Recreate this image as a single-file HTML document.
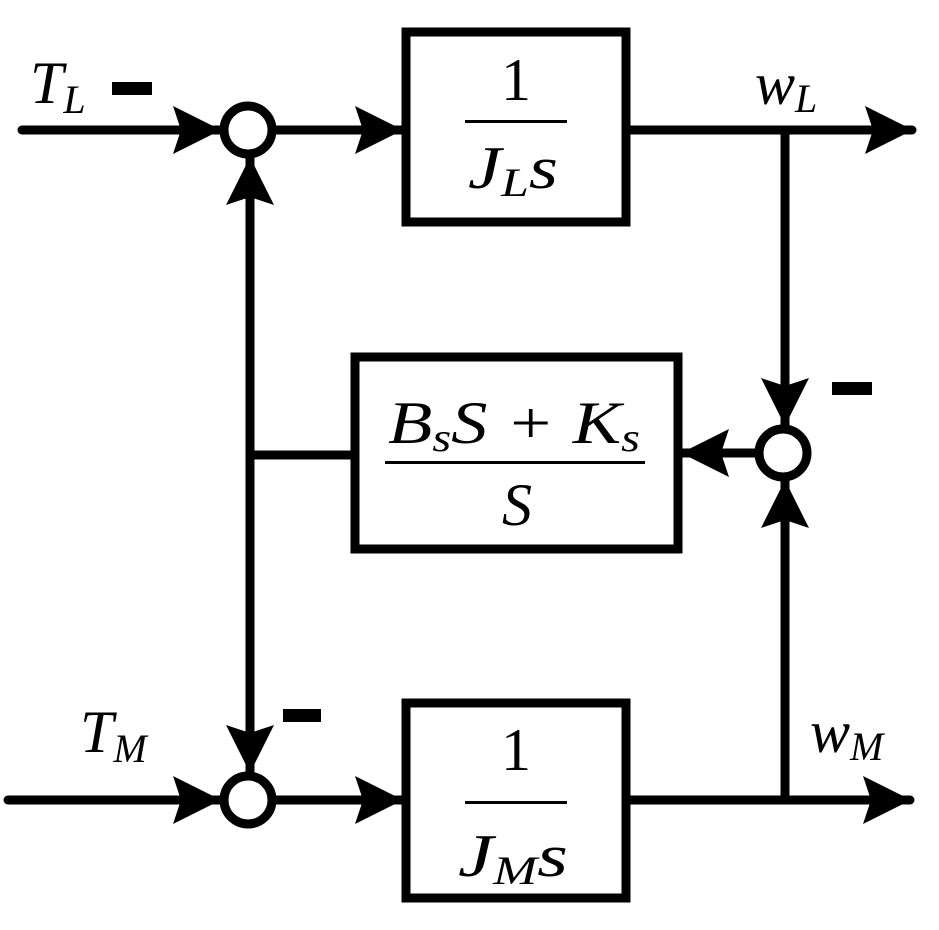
<!DOCTYPE html>
<html><head><style>html,body{margin:0;padding:0;background:#fff}svg{display:block}</style></head><body>
<svg width="939" height="930" viewBox="0 0 939 930" xmlns="http://www.w3.org/2000/svg" font-family="Liberation Serif, serif">
<defs>
<marker id="a" viewBox="0 0 48 48" refX="47" refY="24" markerWidth="48" markerHeight="48" markerUnits="userSpaceOnUse" orient="auto"><path d="M0,0 L48,24 L0,48 L8,24 Z" fill="#000"/></marker>
</defs>
<g stroke="#000" stroke-width="9" fill="none" stroke-linecap="round">
<rect x="406" y="32" width="220" height="190"/>
<rect x="355" y="357" width="323" height="192"/>
<rect x="406" y="703" width="220" height="195"/>
<circle cx="248" cy="130" r="24"/>
<circle cx="248" cy="800" r="24"/>
<circle cx="783" cy="453" r="24"/>
<line x1="22" y1="130" x2="220" y2="130" marker-end="url(#a)"/>
<line x1="272" y1="130" x2="402" y2="130" marker-end="url(#a)"/>
<line x1="626" y1="130" x2="912" y2="130" marker-end="url(#a)"/>
<line x1="8" y1="800" x2="220" y2="800" marker-end="url(#a)"/>
<line x1="272" y1="800" x2="402" y2="800" marker-end="url(#a)"/>
<line x1="626" y1="800" x2="910" y2="800" marker-end="url(#a)"/>
<line x1="250" y1="455" x2="250" y2="158" marker-end="url(#a)"/>
<line x1="250" y1="455" x2="250" y2="772" marker-end="url(#a)"/>
<line x1="355" y1="455" x2="250" y2="455"/>
<line x1="785" y1="130" x2="785" y2="425" marker-end="url(#a)"/>
<line x1="785" y1="800" x2="785" y2="481" marker-end="url(#a)"/>
<line x1="759" y1="453" x2="682" y2="453" marker-end="url(#a)"/>
</g>
<rect x="112" y="82" width="40" height="13" fill="#000"/>
<rect x="832" y="382" width="40" height="13" fill="#000"/>
<rect x="283" y="709" width="38" height="13" fill="#000"/>
<rect x="465" y="120" width="102" height="3" fill="#000"/>
<rect x="385" y="461" width="260" height="3" fill="#000"/>
<rect x="465" y="801" width="102" height="3" fill="#000"/>
<g fill="#000" font-size="60">
<text x="516" y="100" text-anchor="middle">1</text>
<text x="468" y="188" font-style="italic" textLength="90" lengthAdjust="spacingAndGlyphs">J<tspan font-size="40" dy="8">L</tspan><tspan dy="-8">s</tspan></text>
<text x="516" y="770" text-anchor="middle">1</text>
<text x="458" y="876" font-style="italic" textLength="110" lengthAdjust="spacingAndGlyphs">J<tspan font-size="40" dy="8">M</tspan><tspan dy="-8">s</tspan></text>
<text x="388" y="443" font-style="italic" textLength="252" lengthAdjust="spacingAndGlyphs">B<tspan font-size="40" dy="8">s</tspan><tspan dy="-8">S + K</tspan><tspan font-size="40" dy="8">s</tspan></text>
<text x="517" y="525" font-style="italic" text-anchor="middle">S</text>
<text x="30" y="103" font-style="italic">T<tspan font-size="40" dy="10">L</tspan></text>
<text x="80" y="752" font-style="italic">T<tspan font-size="40" dy="10">M</tspan></text>
<text x="755" y="104" font-style="italic">w<tspan font-size="40" dy="8">L</tspan></text>
<text x="810" y="752" font-style="italic">w<tspan font-size="40" dy="8">M</tspan></text>
</g>
</svg>
</body></html>
